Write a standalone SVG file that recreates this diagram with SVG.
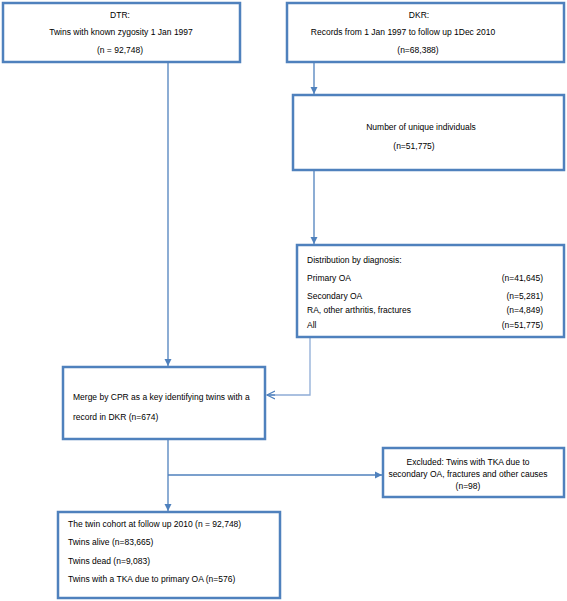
<svg xmlns="http://www.w3.org/2000/svg" width="567" height="601" viewBox="0 0 567 601">
<style>
.box{fill:#fff;stroke:#4F81BD;stroke-width:2.5}
.ln{fill:none;stroke:#4F81BD;stroke-width:1.3}
.ln2{fill:none;stroke:#8EACD6;stroke-width:1.3}
text{font-family:"Liberation Sans",Arial,sans-serif;font-size:8.5px;fill:#000}
.c{text-anchor:middle}
.r{text-anchor:end}
</style>
<defs>
<marker id="ah" markerWidth="8" markerHeight="8" refX="7" refY="4" orient="auto" markerUnits="userSpaceOnUse">
<path d="M0,0.5 L7,4 L0,7.5 Z" fill="#4F81BD"/>
</marker>
<marker id="oh" markerWidth="10" markerHeight="10" refX="8" refY="5" orient="auto" markerUnits="userSpaceOnUse">
<path d="M0,1 L8,5 L0,9" fill="none" stroke="#4F81BD" stroke-width="1.2"/>
</marker>
</defs>
<g id="connectors">
<line class="ln" x1="168" y1="62" x2="168" y2="366" marker-end="url(#ah)"/>
<line class="ln" x1="314" y1="62" x2="314" y2="94" marker-end="url(#ah)"/>
<line class="ln" x1="314" y1="170" x2="314" y2="244" marker-end="url(#ah)"/>
<polyline class="ln2" points="310,338 310,395 268,395"/>
<line class="ln" x1="275" y1="395" x2="267" y2="395" marker-end="url(#oh)"/>
<line class="ln" x1="168" y1="439" x2="168" y2="511" marker-end="url(#ah)"/>
<line class="ln" x1="168" y1="475" x2="382" y2="475" marker-end="url(#ah)"/>
</g>
<g id="dtr">
<rect class="box" x="3" y="3" width="237" height="59"/>
<text class="c" x="120" y="18">DTR:</text>
<text class="c" x="121" y="35">Twins  with known zygosity 1 Jan 1997</text>
<text class="c" x="120" y="53">(n = 92,748)</text>
</g>
<g id="dkr">
<rect class="box" x="287" y="3" width="277" height="59"/>
<text class="c" x="419" y="18">DKR:</text>
<text class="c" x="403" y="35">Records from 1 Jan 1997 to follow up 1Dec 2010</text>
<text class="c" x="418" y="53">(n=68,388)</text>
</g>
<g id="unique">
<rect class="box" x="293" y="95" width="271" height="75"/>
<text class="c" x="421" y="130">Number of unique individuals</text>
<text class="c" x="414" y="149">(n=51,775)</text>
</g>
<g id="distribution">
<rect class="box" x="297" y="245" width="267" height="92"/>
<text x="307" y="263">Distribution by diagnosis:</text>
<text x="307" y="281">Primary OA</text>
<text class="r" x="543" y="281">(n=41,645)</text>
<text x="307" y="299">Secondary OA</text>
<text class="r" x="543" y="299">(n=5,281)</text>
<text x="307" y="313">RA, other arthritis, fractures</text>
<text class="r" x="543" y="313">(n=4,849)</text>
<text x="307" y="328">All</text>
<text class="r" x="543" y="328">(n=51,775)</text>
</g>
<g id="merge">
<rect class="box" x="63" y="367" width="202" height="72"/>
<text x="73" y="400">Merge by CPR as a key identifying twins with a</text>
<text x="73" y="420">record in DKR  (n=674)</text>
</g>
<g id="excluded">
<rect class="box" x="383" y="448" width="181" height="49"/>
<text class="c" x="468" y="465">Excluded: Twins with TKA due to</text>
<text class="c" x="468" y="477">secondary OA, fractures and other causes</text>
<text class="c" x="468" y="489">(n=98)</text>
</g>
<g id="cohort">
<rect class="box" x="58" y="512" width="222" height="86"/>
<text x="68" y="527">The twin cohort at follow up 2010 (n = 92,748)</text>
<text x="68" y="545">Twins alive (n=83,665)</text>
<text x="68" y="564">Twins dead (n=9,083)</text>
<text x="68" y="582">Twins with a TKA due to primary OA (n=576)</text>
</g>
</svg>
